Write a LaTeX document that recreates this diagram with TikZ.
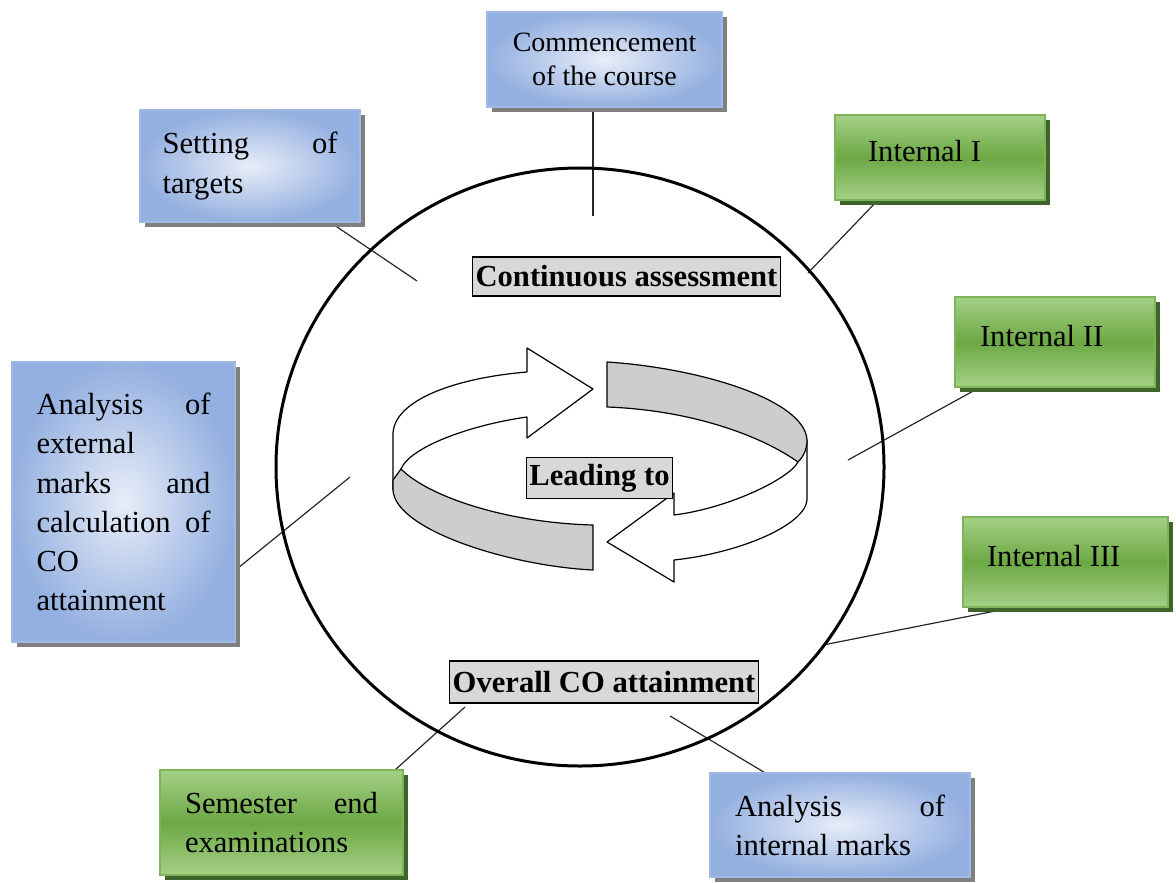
\documentclass[tikz,border=0pt]{standalone}
\usepackage{fontspec}
\setmainfont{Liberation Serif}
\usetikzlibrary{calc,shadows,backgrounds}

% stretchable gap that wins over the ragged-right glue
\newcommand\gapfill{\hskip 0pt plus 1filll\relax}

\definecolor{blueedge}{RGB}{160,186,230}
\definecolor{bluein}{RGB}{232,237,248}
\definecolor{blueout}{RGB}{148,176,224}
\definecolor{greenlight}{RGB}{165,208,135}
\definecolor{greendark}{RGB}{108,168,68}
\definecolor{greenedge}{RGB}{125,180,90}
\definecolor{greenshadow}{RGB}{62,100,42}
\definecolor{ribbongray}{RGB}{205,205,205}
\definecolor{taggray}{RGB}{216,216,216}

\begin{document}
\begin{tikzpicture}[x=0.5pt,y=-0.5pt,
  box/.style={rectangle, inner ysep=0pt, align=flush left, text=black,
    font=\fontsize{15.3}{19.6}\selectfont},
  bluebox/.style={box, draw=blueedge, line width=0.6pt,
    inner color=bluein, outer color=blueout,
    drop shadow={shadow xshift=2.5pt, shadow yshift=-2.5pt, fill=black!50, opacity=1}},
  greenbox/.style={box, draw=greenedge, line width=0.6pt,
    top color=greenlight, bottom color=greenlight, middle color=greendark,
    drop shadow={shadow xshift=2.5pt, shadow yshift=-2.5pt, fill=greenshadow, opacity=1}},
  oneline/.style={text height=10.5pt, text depth=6pt},
  tag/.style={draw=black, line width=0.7pt, fill=taggray, inner xsep=1.5pt,
    font=\bfseries\fontsize{15.3}{18}\selectfont},
  link/.style={draw=black!85, line width=0.6pt},
  ribbon/.style={draw=black, line width=0.6pt, line join=round},
]
\useasboundingbox (0,0) rectangle (1176,882);

% outer ring
\draw[line width=1.5pt] (580,467) ellipse [x radius=304, y radius=299];

% blue boxes
\node[bluebox, minimum width=117.5pt, minimum height=47.5pt, align=center,
  font=\fontsize{14}{17}\selectfont] (top) at (604.5,59.5)
  {Commencement\\of the course};
\node[bluebox, minimum width=110pt, minimum height=56pt, text width=87.5pt]
  (set) at (250,166) {Setting\gapfill of\\targets};
\node[bluebox, minimum width=111.5pt, minimum height=140pt, text width=87pt]
  (ext) at (123.5,502)
  {Analysis\gapfill of\\external\\marks\gapfill and\\calculation\gapfill of\\CO\\attainment};
\node[bluebox, minimum width=130pt, minimum height=52pt, text width=105pt]
  (anl) at (840,825) {Analysis\gapfill of\\internal marks};

% green boxes
\node[greenbox, oneline, minimum width=105pt, minimum height=42.5pt, text width=72pt]
  (int1) at (940,157.5) {Internal I};
\node[greenbox, oneline, minimum width=100pt, minimum height=45pt, text width=75pt]
  (int2) at (1055,342) {Internal II};
\node[greenbox, oneline, minimum width=102.5pt, minimum height=45pt, text width=78.5pt]
  (int3) at (1065.5,562) {Internal III};
\node[greenbox, minimum width=121.5pt, minimum height=52.5pt, text width=96.5pt]
  (sem) at (281.5,822.5) {Semester\gapfill end\\examinations};

% free ends of the connectors, inside the ring
\coordinate (e-top) at (593,216);
\coordinate (e-set) at (417,281);
\coordinate (e-int1) at (808,273);
\coordinate (e-int2) at (848,460);
\coordinate (e-int3) at (823,645);
\coordinate (e-ext) at (350,477);
\coordinate (e-sem) at (465,707);
\coordinate (e-anl) at (670,716);

\begin{scope}[on background layer]
  \draw[link] ($(top.south)+(-11.5,0)$) -- (e-top);
  \draw[link] ($(set.south east)+(-30,0)$) -- (e-set);
  \draw[link] ($(int1.south west)+(43,0)$) -- (e-int1);
  \draw[link] ($(int2.south west)+(25,0)$) -- (e-int2);
  \draw[link] ($(int3.south west)+(40,2)$) -- (e-int3);
  \draw[link] ($(ext.east)+(0,68)$) -- (e-ext);
  \draw[link] ($(sem.north east)+(-8,0)$) -- (e-sem);
  \draw[link] ($(anl.north west)+(55,0)$) -- (e-anl);
\end{scope}

% circular ribbon arrows
\path[ribbon, fill=white] (393,490) -- (393,433)
  .. controls (395,400) and (455,378) .. (527,372)
  -- (527,348) -- (593,389) -- (527,438) -- (527,417)
  .. controls (470,425) and (410,447) .. (401,469) -- cycle;
\path[ribbon, fill=white] (807,440) -- (807,500)
  .. controls (805,525) and (740,553) .. (674,560)
  -- (674,582) -- (607,542) -- (674,493) -- (674,515)
  .. controls (730,508) and (790,478) .. (798,462) -- cycle;
\path[ribbon, fill=ribbongray] (401,469)
  .. controls (430,498) and (510,523) .. (593,525)
  -- (593,570)
  .. controls (510,566) and (395,530) .. (393,490) -- (393,480) -- cycle;
\path[ribbon, fill=ribbongray] (607,362)
  .. controls (700,368) and (805,400) .. (807,440)
  .. controls (807,450) and (803,457) .. (798,462)
  .. controls (760,435) and (690,410) .. (607,407) -- cycle;

% labels
\node[tag, minimum height=19.5pt] (cont) at (626.5,276.5) {Continuous assessment};
\node[tag, minimum height=20pt] (lead) at (599.5,478) {Leading to};
\node[tag, minimum height=21pt] (overall) at (604,682) {Overall CO attainment};
\end{tikzpicture}
\end{document}
